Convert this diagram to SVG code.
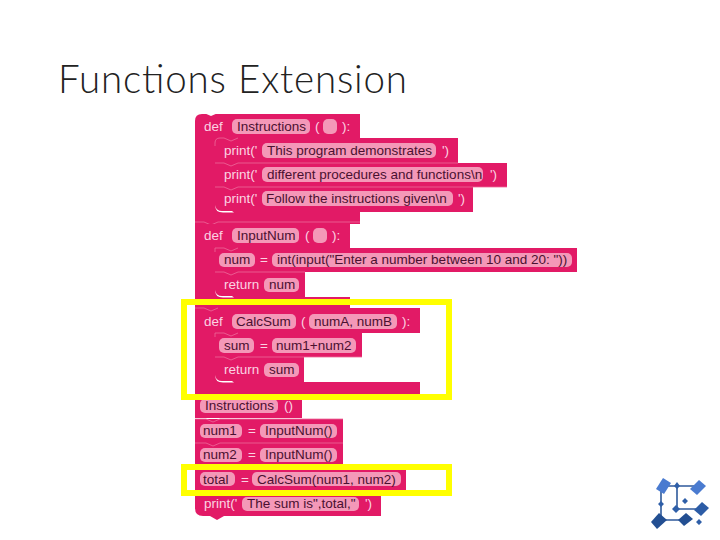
<svg xmlns="http://www.w3.org/2000/svg" width="720" height="540" viewBox="0 0 720 540">
<style>
text{font-family:"Liberation Sans",Arial,sans-serif;font-size:13.5px;fill:#fbd3e2}
text.d{fill:#4a1030}
.b{fill:#e21a66}
.i{fill:#f498b8}
.s{fill:none;stroke:#ee6a9a;stroke-width:.8}
.w{fill:#fff}
.y{fill:none;stroke:#ffff00;stroke-width:6}
.t{font-family:Lato,"Liberation Sans",sans-serif;font-weight:300;font-size:38.5px;fill:#222}
.l{fill:#2f5fa8}
.c{fill:none;stroke:#2f5a9c;stroke-width:1.6}
</style>
<text id="title" class="t" x="58" y="93" textLength="349" lengthAdjust="spacing">Functions Extension</text>

<g id="def-instructions">
<path class="b" d="M202 114H360V138H458V163H507V187H473V212H360V224H195V121Q195 114 202 114Z"/>
<path class="s" d="M215 163H224L231 166L238 163H458M215 187H224L231 190L238 187H507M195 222H204L211 225L218 222H360M215 146V143Q215 138 220 138H224L231 141L238 138"/>
<path class="w" d="M215 205Q216 211 222 211H232L234 212.5H223Q215 212.5 215 205Z"/>
<path fill="#fff" d="M204 113L211 116L218 113Z"/>
<text x="204" y="131">def</text><rect class="i" x="232" y="119" width="78" height="15" rx="5"/><text class="d" x="237" y="131">Instructions</text>
<text x="315" y="131">(</text><rect class="i" x="323" y="119" width="14" height="15" rx="5"/><text x="342" y="131">):</text>
<text x="224" y="155">print('</text><rect class="i" x="262" y="143" width="174" height="15" rx="5"/><text class="d" x="267" y="155">This program demonstrates</text><text x="442" y="155">')</text>
<text x="224" y="179">print('</text><rect class="i" x="262" y="167" width="221" height="15" rx="5"/><text class="d" x="267" y="179">different procedures and functions\n</text><text x="490" y="179">')</text>
<text x="224" y="203">print('</text><rect class="i" x="262" y="191" width="191" height="15" rx="5"/><text class="d" x="266" y="203">Follow the instructions given\n</text><text x="458" y="203">')</text>
</g>

<g id="def-inputnum">
<path class="b" d="M195 224H350V248H577V272H305V297H350V308H195Z"/>
<path class="s" d="M215 272H224L231 275L238 272H305M215 252V248H224L231 251L238 248"/>
<path class="w" d="M215 290Q216 296 222 296H232L234 297.5H223Q215 297.5 215 290Z"/>
<text x="204" y="240">def</text><rect class="i" x="232" y="228" width="67" height="15" rx="5"/><text class="d" x="237" y="240">InputNum</text>
<text x="305" y="240">(</text><rect class="i" x="313" y="228" width="14" height="15" rx="5"/><text x="332" y="240">):</text>
<rect class="i" x="219" y="253" width="36" height="14" rx="5"/><text class="d" x="224" y="264">num</text><text x="260" y="264">=</text>
<rect class="i" x="272" y="253" width="300" height="14" rx="5"/><text class="d" x="277" y="264">int(input("Enter a number between 10 and 20: "))</text>
<text x="224" y="289">return</text><rect class="i" x="264" y="278" width="35" height="14" rx="5"/><text class="d" x="269" y="289">num</text>
</g>

<g id="def-calcsum">
<path class="b" d="M195 308H420V333H362V357H304V382H420V394H195Z"/>
<path class="s" d="M215 357H224L231 360L238 357H362M195 308H204L211 311L218 308M215 337V333H224L231 336L238 333"/>
<path class="w" d="M215 375Q216 381 222 381H232L234 382.5H223Q215 382.5 215 375Z"/>
<text x="204" y="326">def</text><rect class="i" x="232" y="314" width="64" height="15" rx="5"/><text class="d" x="236" y="326">CalcSum</text>
<text x="301" y="326">(</text><rect class="i" x="309" y="314" width="88" height="15" rx="5"/><text class="d" x="314" y="326">numA, numB</text><text x="402" y="326">):</text>
<rect class="i" x="219" y="338" width="35" height="15" rx="5"/><text class="d" x="224" y="350">sum</text><text x="260" y="350">=</text>
<rect class="i" x="272" y="338" width="84" height="15" rx="5"/><text class="d" x="276" y="350">num1+num2</text>
<text x="224" y="374">return</text><rect class="i" x="264" y="363" width="35" height="14" rx="5"/><text class="d" x="269" y="374">sum</text>
</g>

<g id="call-instructions">
<path class="b" d="M195 394H302V418H195Z"/>
<rect class="i" x="200" y="399" width="78" height="14" rx="5"/><text class="d" x="205" y="410">Instructions</text><text x="284" y="410">()</text>
</g>
<g id="assign-num1">
<path class="b" d="M195 419H343V443H195Z"/>
<path class="s" d="M195 419H206L213 422L220 419H343"/>
<rect class="i" x="200" y="424" width="42" height="14" rx="5"/><text class="d" x="203" y="435">num1</text><text x="248" y="435">=</text>
<rect class="i" x="260" y="424" width="77" height="14" rx="5"/><text class="d" x="265" y="435">InputNum()</text>
</g>
<g id="assign-num2">
<path class="b" d="M195 443H343V467H195Z"/>
<path class="s" d="M195 443H206L213 446L220 443H343"/>
<rect class="i" x="200" y="448" width="42" height="14" rx="5"/><text class="d" x="203" y="459">num2</text><text x="248" y="459">=</text>
<rect class="i" x="260" y="448" width="77" height="14" rx="5"/><text class="d" x="265" y="459">InputNum()</text>
</g>
<g id="assign-total">
<path class="b" d="M195 467H406V491H195Z"/>
<rect class="i" x="200" y="472" width="35" height="14" rx="5"/><text class="d" x="203" y="484">total</text><text x="241" y="484">=</text>
<rect class="i" x="252" y="472" width="149" height="14" rx="5"/><text class="d" x="257" y="484">CalcSum(num1, num2)</text>
</g>
<g id="print-sum">
<path class="b" d="M195 491H381V516H224L217 520L210 516H203Q195 516 195 508Z"/>
<text x="204" y="508">print('</text><rect class="i" x="242" y="497" width="117" height="14" rx="5"/><text class="d" x="247" y="508">The sum is",total,"</text><text x="365" y="508">')</text>
</g>

<g id="highlights">
<rect class="y" x="184" y="302" width="265" height="95"/>
<rect class="y" x="184" y="467" width="265" height="26"/>
</g>

<g id="logo">
<path class="c" d="M663 486H699M677 486V509M676 509H702M661 488V520M659 520H686"/>
<path fill="#4a7bd0" d="M663 478L671 483L664 494L656 489Z"/>
<path fill="#4a7bd0" d="M699 480L706 486L697 495L690 489Z"/>
<path fill="#2c5ca6" d="M702 502L709 508L701 516L694 510Z"/>
<path fill="#234f92" d="M659 513L667 520L657 529L651 522Z"/>
<path fill="#234f92" d="M686 513L693 519L684 526L678 520Z"/>
<path class="l" d="M677 482L680 486L677 489L674 486ZM661 501L664 504L661 507L658 504ZM676 505L680 509L676 513L672 509ZM685 498L688 501L685 504L682 501ZM699 519L702 522L699 525L696 522Z"/>
</g>
</svg>
